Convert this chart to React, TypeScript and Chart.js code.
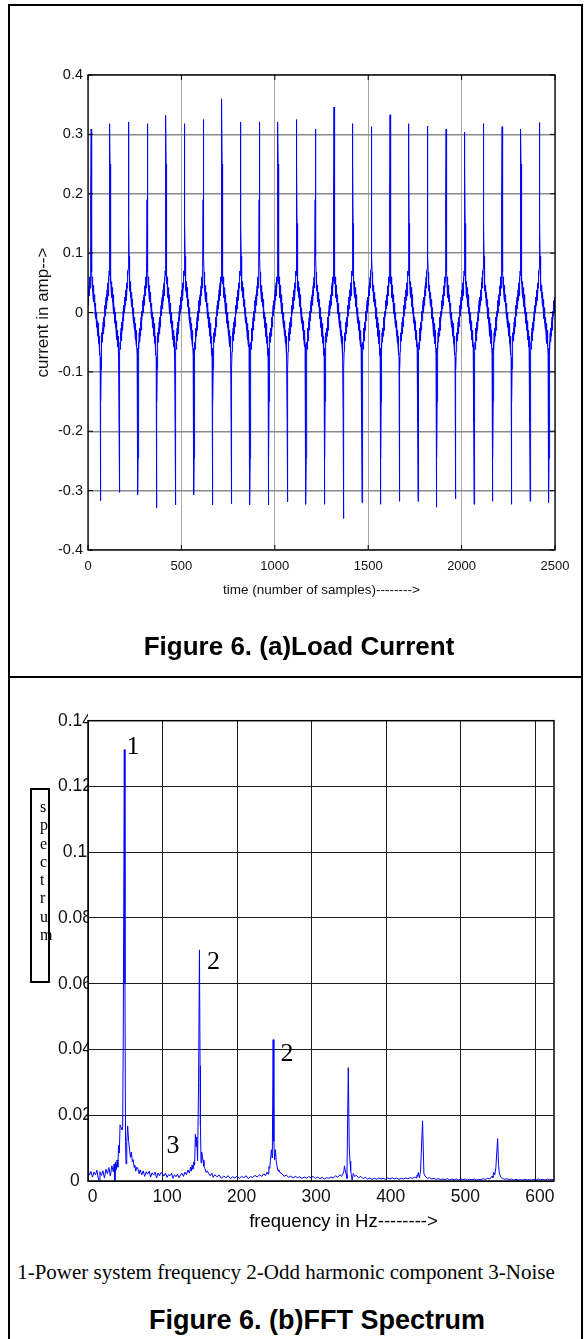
import React, { useEffect, useRef } from 'react';
import { Chart, registerables } from 'chart.js';

Chart.register(...registerables);

const SANS = "'Liberation Sans', Arial, Helvetica, sans-serif";
const SERIF = "'Liberation Serif', 'Times New Roman', serif";

// ---------------- Figure 6(a): load current ----------------
const xTicksA = [0, 500, 1000, 1500, 2000, 2500];
const xTickLabelsA = ['0', '500', '1000', '1500', '2000', '2500'];
const yTicksA = [-0.4, -0.3, -0.2, -0.1, 0, 0.1, 0.2, 0.3, 0.4];
const yTickLabelsA = ['-0.4', '-0.3', '-0.2', '-0.1', '0', '0.1', '0.2', '0.3', '0.4'];
const lastSample = 2500;
const firstPeakSample = 17;
const samplesPerCycle = 100;
const halfCycle = 50;

// peak values of each of the 25 cycles
const positivePeaks = [
  0.309, 0.318, 0.321, 0.318, 0.332, 0.318, 0.325, 0.360, 0.321, 0.321, 0.321, 0.325, 0.309,
  0.346, 0.318, 0.313, 0.333, 0.318, 0.314, 0.309, 0.304, 0.318, 0.313, 0.309, 0.320,
];
const negativePeaks = [
  -0.317, -0.303, -0.307, -0.329, -0.324, -0.307, -0.324, -0.322, -0.324, -0.324, -0.319, -0.323,
  -0.323, -0.347, -0.320, -0.323, -0.318, -0.318, -0.328, -0.314, -0.323, -0.318, -0.323, -0.318, -0.320,
];

// shape of one cycle, one value per sample, starting 17 samples before the positive peak
// (null = the cycle's own peak value from the lists above)
const cycleFirstOffset = -17;
const cycleShape: (number | null)[] = [
  0.030, 0.012, 0.038, 0.026, 0.020, 0.045, 0.032, 0.050, 0.028, 0.044,
  0.060, 0.041, 0.052, 0.070, 0.062, 0.074, 0.190, null, 0.250, 0.150,
  0.095, 0.068, 0.048, 0.060, 0.036, 0.052, 0.040, 0.025, 0.046, 0.030,
  0.042, 0.018, 0.034, 0.024, 0.010, 0.030, 0.015, 0.022, -0.002, 0.016,
  0.006, -0.010, 0.008, -0.004, -0.018, 0.000, -0.012, -0.025, -0.008, -0.020,
  -0.030, -0.014, -0.040, -0.024, -0.018, -0.046, -0.030, -0.052, -0.030, -0.045,
  -0.058, -0.040, -0.054, -0.072, -0.060, -0.075, -0.185, null, -0.245, -0.150,
  -0.095, -0.066, -0.050, -0.062, -0.034, -0.050, -0.042, -0.026, -0.048, -0.028,
  -0.040, -0.016, -0.036, -0.022, -0.008, -0.030, -0.014, -0.024, 0.002, -0.014,
  -0.004, 0.012, -0.006, 0.006, 0.020, 0.000, 0.014, 0.026, 0.006, 0.018,
];

// ---------------- Figure 6(b): FFT spectrum ----------------
const xTicksB = [0, 100, 200, 300, 400, 500, 600];
const xTickLabelsB = ['0', '100', '200', '300', '400', '500', '600'];
const yTicksB = [0, 0.02, 0.04, 0.06, 0.08, 0.1, 0.12, 0.14];
const yTickLabelsB = ['0', '0.02', '0.04', '0.06', '0.08', '0.1', '0.12', '0.14'];
const freqMax = 625;

// [frequency Hz, amplitude]
const band0to100: [number, number][] = [
  [0, 0.0034], [2, 0.0018], [4, 0.0029], [6, 0.0012], [8, 0.0027], [10, 0.0019], [12, 0.0033],
  [14, 0.0006], [15, 0.0002], [16, 0.0028], [18, 0.0017], [20, 0.0031], [22, 0.0009], [24, 0.0036],
  [26, 0.0022], [28, 0.0041], [30, 0.0015], [32, 0.0046], [34, 0.0028], [35, 0.0052], [36, 0.0001],
  [37, 0.0058], [38, 0.0034], [39, 0.0064], [40, 0.0042], [41, 0.0108], [42, 0.0085], [43, 0.0171],
  [44.5, 0.0162], [45.6, 0.0156], [46.5, 0.0165], [47.3, 0.045], [48.7, 0.1312], [49.6, 0.06],
  [50.3, 0.012], [51, 0.0052], [52, 0.0118], [53.2, 0.0167], [54.5, 0.0122], [55.8, 0.0093],
  [57, 0.0072], [58.2, 0.0088], [59.5, 0.0058], [60.5, 0.0065], [62, 0.0041], [62.8, 0.0048],
  [64, 0.003], [65.5, 0.0042], [67, 0.0037], [68.5, 0.0022], [70, 0.0034], [72, 0.0019], [74, 0.0031],
  [76, 0.0014], [78, 0.0028], [80, 0.0021], [82, 0.003], [84, 0.0012], [86, 0.0025], [88, 0.0018],
  [90, 0.0027], [92, 0.0009], [94, 0.0024], [96, 0.0016], [98, 0.0026],
];
const band100to200: [number, number][] = [
  [100, 0.0022], [102, 0.0015], [104, 0.0024], [106, 0.0011], [108, 0.002], [110, 0.0016],
  [112, 0.0023], [114, 0.0008], [116, 0.0019], [118, 0.0013], [120, 0.0021], [122, 0.001],
  [124, 0.0018], [126, 0.0024], [128, 0.0014], [130, 0.0027], [132, 0.0019], [134, 0.0033],
  [136, 0.0024], [137.5, 0.0042], [138.5, 0.003], [139.6, 0.0048], [140.7, 0.0036], [141.8, 0.0058],
  [143, 0.0048], [144, 0.0142], [145, 0.0105], [145.8, 0.0134], [147, 0.0062], [148.3, 0.03],
  [149.5, 0.0703], [150.3, 0.035], [150.8, 0.0169], [151.6, 0.0055], [152.5, 0.0088], [153.5, 0.0071],
  [154.4, 0.0063], [155.5, 0.0045], [157, 0.0037], [158.5, 0.0026], [160, 0.0031], [162, 0.0022],
  [164, 0.0016], [166, 0.0024], [168, 0.0011], [170, 0.0019], [173, 0.0013], [176, 0.0018],
  [179, 0.0008], [182, 0.0015], [185, 0.001], [188, 0.0016], [191, 0.0007], [194, 0.0013],
  [197, 0.0009], [200, 0.0015],
];
const band200to300: [number, number][] = [
  [203, 0.0008], [206, 0.0014], [209, 0.001], [212, 0.0016], [215, 0.0007], [218, 0.0013],
  [221, 0.0011], [224, 0.0017], [227, 0.0012], [230, 0.0019], [233, 0.0014], [236, 0.0022],
  [238, 0.0016], [240.2, 0.0027], [241.5, 0.0021], [242.5, 0.0043], [243.7, 0.0038], [244.7, 0.0063],
  [246, 0.0095], [247.2, 0.007], [248.3, 0.043], [249.3, 0.012], [250.3, 0.0065], [251.4, 0.0095],
  [252.5, 0.006], [253.7, 0.0043], [255, 0.003], [255.9, 0.0034], [258, 0.0024], [260.4, 0.0022],
  [263, 0.0014], [266, 0.0018], [269, 0.0011], [272, 0.0015], [275, 0.0009], [278, 0.0014],
  [281, 0.001], [284, 0.0013], [287, 0.0008], [290, 0.0012], [293, 0.0009], [296, 0.0013], [299, 0.001],
];
const band300to400: [number, number][] = [
  [302, 0.0014], [305, 0.0008], [308, 0.0012], [311, 0.0007], [314, 0.0011], [317, 0.0006],
  [320, 0.001], [323, 0.0008], [326, 0.0012], [329, 0.0009], [332, 0.0016], [335, 0.0011],
  [338, 0.0019], [340, 0.0014], [341.8, 0.0021], [343, 0.0028], [344, 0.0046], [345.2, 0.003],
  [346.3, 0.002], [347.3, 0.0008], [349.1, 0.0345], [350.4, 0.01], [351.4, 0.006], [352.3, 0.003],
  [353.2, 0.002], [354.2, 0.0002], [355.8, 0.0023], [357.5, 0.0014], [360, 0.0017], [363, 0.001],
  [366, 0.0014], [369, 0.0007], [372, 0.0011], [375, 0.0006], [378, 0.0009], [381, 0.0005],
  [384, 0.0008], [387, 0.0005], [390, 0.0009], [393, 0.0006], [396, 0.0008], [399, 0.0005],
];
const band400to500: [number, number][] = [
  [402, 0.0009], [405, 0.0006], [408, 0.001], [411, 0.0006], [414, 0.0009], [417, 0.0005],
  [420, 0.0008], [423, 0.0006], [426, 0.0009], [429, 0.0007], [432, 0.001], [435, 0.0008],
  [438, 0.0012], [440, 0.0009], [441, 0.0017], [442, 0.0014], [443, 0.0026], [444.5, 0.0009],
  [446, 0.003], [448.7, 0.0183], [450.5, 0.0023], [452, 0.0015], [453.5, 0.0012], [455, 0.0008],
  [458, 0.001], [461, 0.0006], [464, 0.0008], [467, 0.0005], [470, 0.0007], [473, 0.0004],
  [476, 0.0006], [479, 0.0004], [482, 0.0007], [485, 0.0003], [488, 0.0006], [491, 0.0004],
  [494, 0.0006], [497, 0.0003], [500, 0.0006],
];
const band500to625: [number, number][] = [
  [503, 0.0004], [506, 0.0006], [509, 0.0003], [512, 0.0005], [515, 0.0004], [518, 0.0006],
  [521, 0.0003], [524, 0.0005], [527, 0.0004], [530, 0.0007], [533, 0.0005], [536, 0.0008],
  [539, 0.0006], [541, 0.0012], [542, 0.0015], [543, 0.001], [544, 0.0026], [545.5, 0.0018],
  [547, 0.004], [549.4, 0.0129], [550.6, 0.005], [551.6, 0.0026], [553, 0.0015], [554.3, 0.001],
  [556, 0.0008], [559, 0.0005], [562, 0.0007], [565, 0.0004], [568, 0.0006], [571, 0.0003],
  [574, 0.0005], [577, 0.0003], [580, 0.0004], [583, 0.0003], [586, 0.0005], [589, 0.0003],
  [592, 0.0004], [595, 0.0003], [598, 0.0005], [601, 0.0003], [604, 0.0006], [607, 0.0004],
  [610, 0.0005], [613, 0.0003], [616, 0.0006], [619, 0.0004], [622, 0.0005], [625, 0.0004],
];

function buildCurrentSeries() {
  const pts: { x: number; y: number }[] = [];
  for (let k = 0; k < positivePeaks.length; k++) {
    const peakAt = firstPeakSample + k * samplesPerCycle;
    for (let i = 0; i < cycleShape.length; i++) {
      const off = cycleFirstOffset + i;
      const s = peakAt + off;
      if (s < 0 || s > lastSample) continue;
      const v = off === 0 ? positivePeaks[k] : off === halfCycle ? negativePeaks[k] : (cycleShape[i] as number);
      pts.push({ x: s, y: v });
    }
  }
  return pts;
}

function buildSpectrum() {
  return [...band0to100, ...band100to200, ...band200to300, ...band300to400, ...band400to500, ...band500to625]
    .map(([f, a]) => ({ x: f, y: a }));
}

const frameA = {
  id: 'frameA',
  afterDraw(chart: any) {
    const { ctx, chartArea, scales } = chart;
    const { left, right, top, bottom } = chartArea;
    ctx.save();
    ctx.strokeStyle = '#000';
    ctx.lineWidth = 1.3;
    ctx.strokeRect(left, top, right - left, bottom - top);
    ctx.lineWidth = 1;
    ctx.beginPath();
    scales.x.ticks.forEach((t: any) => {
      const p = scales.x.getPixelForValue(t.value);
      ctx.moveTo(p, bottom); ctx.lineTo(p, bottom - 5);
      ctx.moveTo(p, top); ctx.lineTo(p, top + 5);
    });
    scales.y.ticks.forEach((t: any) => {
      const p = scales.y.getPixelForValue(t.value);
      ctx.moveTo(left, p); ctx.lineTo(left + 5, p);
      ctx.moveTo(right, p); ctx.lineTo(right - 5, p);
    });
    ctx.stroke();
    ctx.restore();
  },
};

const frameB = {
  id: 'frameB',
  afterDraw(chart: any) {
    const { ctx, chartArea } = chart;
    const { left, right, top, bottom } = chartArea;
    ctx.save();
    ctx.strokeStyle = '#000';
    ctx.lineWidth = 1.5;
    ctx.strokeRect(left, top, right - left, bottom - top);
    ctx.restore();
  },
};

export default function App() {
  const refA = useRef<HTMLCanvasElement>(null);
  const refB = useRef<HTMLCanvasElement>(null);

  useEffect(() => {
    const chartA = new Chart(refA.current as HTMLCanvasElement, {
      type: 'line',
      data: {
        datasets: [{
          data: buildCurrentSeries(),
          borderColor: '#0000ff',
          borderWidth: 1,
          pointRadius: 0,
          tension: 0,
          fill: false,
        }],
      },
      options: {
        animation: false,
        responsive: false,
        events: [],
        layout: { padding: { top: 75, right: 30, left: 0, bottom: 0 } },
        plugins: { legend: { display: false }, tooltip: { enabled: false } },
        scales: {
          x: {
            type: 'linear', min: 0, max: 2500,
            afterBuildTicks: (s: any) => { s.ticks = xTicksA.map((v) => ({ value: v })); },
            afterFit: (s: any) => { s.height = 126; },
            grid: { color: '#a8a8a8', lineWidth: 1, drawTicks: false },
            border: { display: false },
            ticks: {
              autoSkip: false, maxRotation: 0, padding: 9, color: '#111',
              font: { family: SANS, size: 13 },
              callback: (_v: any, i: number) => xTickLabelsA[i],
            },
            title: {
              display: true, text: 'time (number of samples)-------->', color: '#111',
              font: { family: SANS, size: 13.5 }, padding: { top: 0, bottom: 78 },
            },
          },
          y: {
            type: 'linear', min: -0.4, max: 0.4,
            afterBuildTicks: (s: any) => { s.ticks = yTicksA.map((v) => ({ value: v })); },
            afterFit: (s: any) => { s.width = 88; },
            grid: { color: '#8a8a8a', lineWidth: 1.4, drawTicks: false },
            border: { display: false },
            ticks: {
              autoSkip: false, padding: 5, color: '#111',
              font: { family: SANS, size: 14.5 },
              callback: (_v: any, i: number) => yTickLabelsA[i],
            },
            title: {
              display: true, text: 'current in amp-->', color: '#111',
              font: { family: SANS, size: 17 }, padding: { top: 33, bottom: 0 },
            },
          },
        },
      },
      plugins: [frameA],
    } as any);

    const chartB = new Chart(refB.current as HTMLCanvasElement, {
      type: 'line',
      data: {
        datasets: [{
          data: buildSpectrum(),
          borderColor: '#0000ff',
          borderWidth: 1,
          pointRadius: 0,
          tension: 0,
          fill: false,
        }],
      },
      options: {
        animation: false,
        responsive: false,
        events: [],
        layout: { padding: { top: 40.7, right: 31, left: 0, bottom: 0 } },
        plugins: { legend: { display: false }, tooltip: { enabled: false } },
        scales: {
          x: {
            type: 'linear', min: 0, max: freqMax,
            afterBuildTicks: (s: any) => { s.ticks = xTicksB.map((v) => ({ value: v })); },
            afterFit: (s: any) => { s.height = 39; },
            grid: { color: '#1a1a1a', lineWidth: 1, drawTicks: false },
            border: { display: false },
            ticks: {
              autoSkip: false, maxRotation: 0, padding: 5.5, labelOffset: 4.5, color: '#111',
              font: { family: SANS, size: 17.5 },
              callback: (_v: any, i: number) => xTickLabelsB[i],
            },
          },
          y: {
            type: 'linear', min: 0, max: 0.14,
            afterBuildTicks: (s: any) => { s.ticks = yTicksB.map((v) => ({ value: v })); },
            afterFit: (s: any) => { s.width = 88; },
            grid: { color: '#1a1a1a', lineWidth: 1, drawTicks: false },
            border: { display: false },
            ticks: {
              autoSkip: false, padding: -4, crossAlign: 'center', color: '#111',
              font: { family: SANS, size: 17.5 },
              callback: (_v: any, i: number) => yTickLabelsB[i],
            },
          },
        },
      },
      plugins: [frameB],
    } as any);

    return () => { chartA.destroy(); chartB.destroy(); };
  }, []);

  const abs = (x: number, y: number, extra: React.CSSProperties = {}): React.CSSProperties => ({
    position: 'absolute', left: x, top: y, transform: 'translate(-50%, -50%)',
    whiteSpace: 'nowrap', lineHeight: 1, color: '#000', ...extra,
  });

  const spectrumLetters = ['s', 'p', 'e', 'c', 't', 'r', 'u', 'm'];

  return (
    <div style={{ position: 'absolute', left: 0, top: 0, width: 585, height: 1339, background: '#fff', overflow: 'hidden' }}>
      <div style={{ position: 'absolute', left: 8, top: 4, width: 575, height: 1400, boxSizing: 'border-box', borderLeft: '2px solid #000', borderTop: '2px solid #000', borderRight: '2px solid #000' }} />
      <div style={{ position: 'absolute', left: 8, top: 676, width: 575, height: 2, background: '#000' }} />

      <canvas ref={refA} width={585} height={676} style={{ position: 'absolute', left: 0, top: 0, width: 585, height: 676 }} />
      <div style={abs(299, 646, { fontFamily: SANS, fontWeight: 'bold', fontSize: 26 })}>Figure 6. (a)Load Current</div>

      <canvas ref={refB} width={585} height={540} style={{ position: 'absolute', left: 0, top: 680, width: 585, height: 540 }} />
      <div style={{ position: 'absolute', left: 30, top: 788, width: 20, height: 195, boxSizing: 'border-box', border: '2px solid #000', paddingTop: 8, paddingLeft: 8, fontFamily: SERIF, fontSize: 16, lineHeight: '18.3px', color: '#000' }}>
        {spectrumLetters.map((c, i) => (<div key={i}>{c}</div>))}
      </div>
      <div style={abs(133, 746, { fontFamily: SERIF, fontSize: 26 })}>1</div>
      <div style={abs(213.5, 960.5, { fontFamily: SERIF, fontSize: 26 })}>2</div>
      <div style={abs(287, 1053, { fontFamily: SERIF, fontSize: 26 })}>2</div>
      <div style={abs(173, 1145, { fontFamily: SERIF, fontSize: 26 })}>3</div>
      <div style={abs(343.5, 1221, { fontFamily: SANS, fontSize: 18.5 })}>frequency in Hz--------&gt;</div>
      <div style={abs(286, 1272, { fontFamily: SERIF, fontSize: 21 })}>1-Power system frequency 2-Odd harmonic component 3-Noise</div>
      <div style={abs(317, 1320, { fontFamily: SANS, fontWeight: 'bold', fontSize: 27 })}>Figure 6. (b)FFT Spectrum</div>
    </div>
  );
}
